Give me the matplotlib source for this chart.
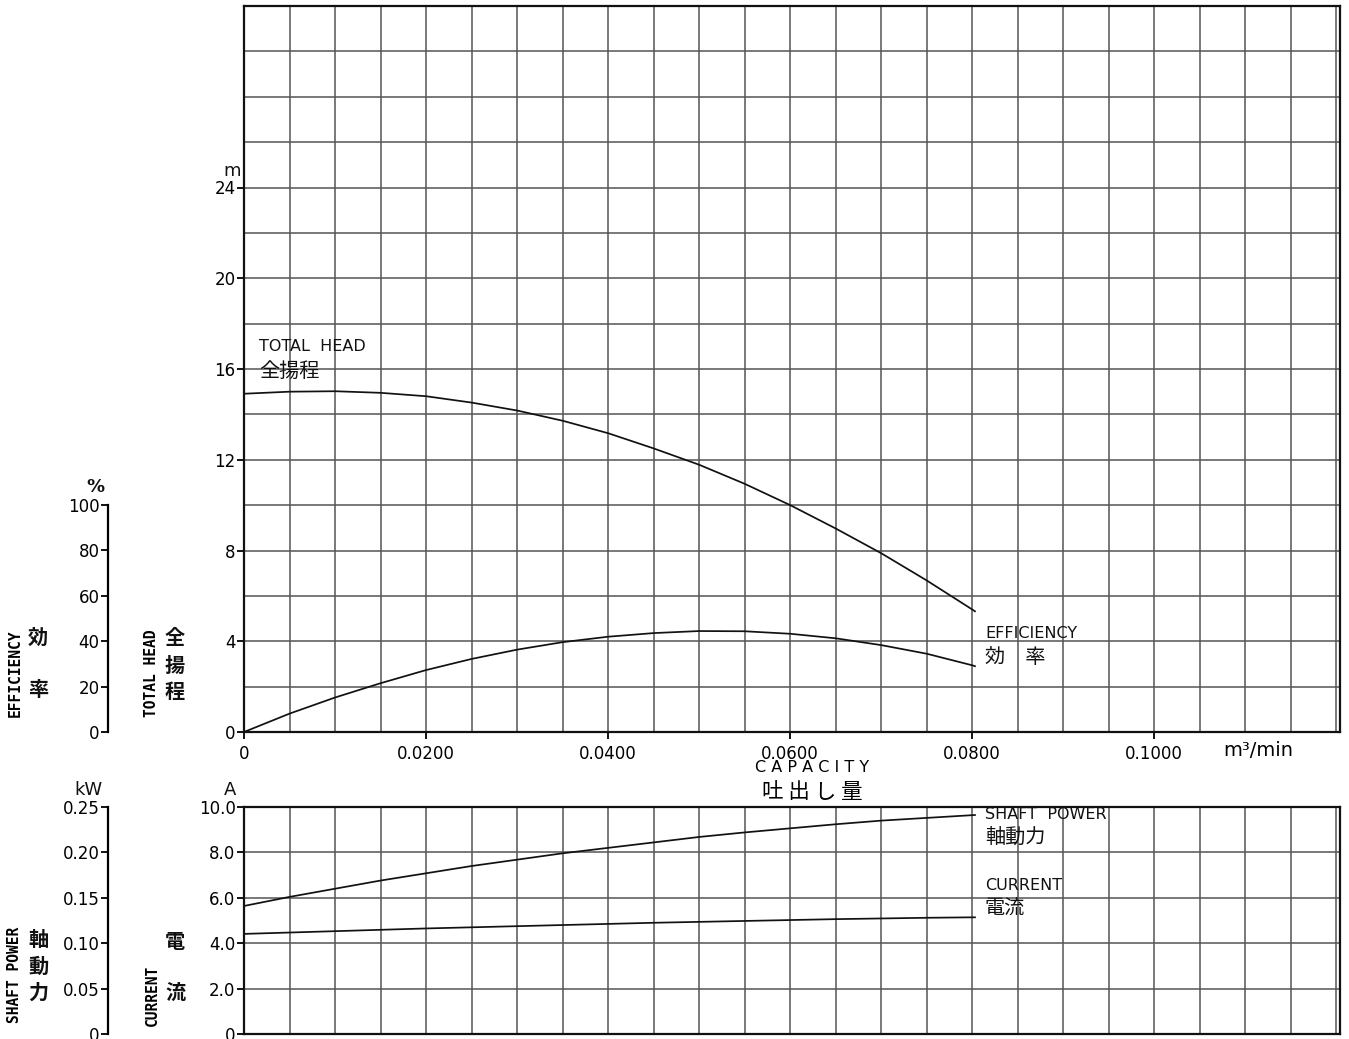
import matplotlib
matplotlib.use('Agg')
import matplotlib.pyplot as plt

plt.rcParams['font.family'] = ['DejaVu Sans', 'Noto Sans CJK JP']

# capacity (m3/min)
capacity = [0, 0.005, 0.01, 0.015, 0.02, 0.025, 0.03, 0.035, 0.04, 0.045,
            0.05, 0.055, 0.06, 0.065, 0.07, 0.075, 0.08, 0.0803]
# total head (m)
head = [14.91, 15.0, 15.02, 14.95, 14.8, 14.52, 14.17, 13.72, 13.17, 12.5,
        11.78, 10.94, 10.0, 8.97, 7.88, 6.68, 5.4, 5.32]
# efficiency (%)
efficiency = [0, 8.1, 15.2, 21.5, 27.3, 32.2, 36.3, 39.6, 42.0, 43.6,
              44.5, 44.4, 43.3, 41.3, 38.3, 34.5, 29.4, 29.0]
# shaft power (kW)
shaft_power = [0.141, 0.151, 0.160, 0.169, 0.177, 0.185, 0.192, 0.199, 0.205, 0.211,
               0.217, 0.222, 0.2265, 0.231, 0.235, 0.238, 0.241, 0.2412]
# current (A)
current = [4.41, 4.47, 4.53, 4.59, 4.65, 4.70, 4.75, 4.80, 4.85, 4.90,
           4.94, 4.98, 5.02, 5.06, 5.09, 5.12, 5.14, 5.14]

x_ticks = [0, 0.02, 0.04, 0.06, 0.08, 0.10]
x_labels = ['0', '0.0200', '0.0400', '0.0600', '0.0800', '0.1000']
head_ticks = [0, 4, 8, 12, 16, 20, 24]
eff_ticks = [0, 20, 40, 60, 80, 100]
cur_ticks = [0, 2, 4, 6, 8, 10]
cur_labels = ['0', '2.0', '4.0', '6.0', '8.0', '10.0']
kw_ticks = [0, 0.05, 0.10, 0.15, 0.20, 0.25]
kw_labels = ['0', '0.05', '0.10', '0.15', '0.20', '0.25']

W, H = 1349, 1039
fig = plt.figure(figsize=(W / 100, H / 100), dpi=100)

XMAX = 0.1204
PT = 72 / 100  # points per pixel
GRID_KW = dict(color='#555555', linewidth=1.1)
TICK_KW = dict(direction='out', length=7 * PT, width=1.3, labelsize=12, pad=1)
LINE_KW = dict(color='#111111', linewidth=1.25, zorder=3)


def px(x, y):
    return x / W, 1 - y / H


def frame(ax):
    for s in ax.spines.values():
        s.set_linewidth(1.6)
        s.set_color('#111111')


def side_axis(ax):
    # second scale drawn as a separate spine left of the chart
    tw = ax.twinx()
    tw.yaxis.tick_left()
    tw.spines['left'].set_position(('outward', 136 * PT))
    tw.spines['left'].set_linewidth(1.6)
    for s in ['right', 'top', 'bottom']:
        tw.spines[s].set_visible(False)
    return tw


# ---- upper chart: head + efficiency ----
ax1 = fig.add_axes([244 / W, 1 - 732 / H, 1096 / W, 726 / H])
ax1.set_xlim(0, XMAX)
ax1.set_ylim(0, 32)
for i in range(1, 25):
    ax1.axvline(i * 0.005, **GRID_KW, zorder=1)
for i in range(1, 16):
    ax1.axhline(i * 2, **GRID_KW, zorder=1)
ax1.plot(capacity, head, **LINE_KW)
ax1.set_xticks(x_ticks)
ax1.set_xticklabels(x_labels)
ax1.set_yticks(head_ticks)
ax1.tick_params(**TICK_KW)
ax1.tick_params(axis='x', pad=4)
frame(ax1)

eff_ax = side_axis(ax1)
eff_ax.set_ylim(0, 320)
eff_ax.spines['left'].set_bounds(0, 100)
eff_ax.set_yticks(eff_ticks)
eff_ax.tick_params(**TICK_KW)
eff_ax.plot(capacity, efficiency, **LINE_KW)

# ---- lower chart: current + shaft power ----
ax2 = fig.add_axes([244 / W, 1 - 1034 / H, 1096 / W, 227 / H])
ax2.set_xlim(0, XMAX)
ax2.set_ylim(0, 10)
for i in range(1, 25):
    ax2.axvline(i * 0.005, **GRID_KW, zorder=1)
for i in range(1, 5):
    ax2.axhline(i * 2, **GRID_KW, zorder=1)
ax2.plot(capacity, current, **LINE_KW)
ax2.set_xticks([])
ax2.set_yticks(cur_ticks)
ax2.set_yticklabels(cur_labels)
ax2.tick_params(**TICK_KW)
frame(ax2)

kw_ax = side_axis(ax2)
kw_ax.set_ylim(0, 0.25)
kw_ax.set_yticks(kw_ticks)
kw_ax.set_yticklabels(kw_labels)
kw_ax.tick_params(**TICK_KW)
kw_ax.plot(capacity, shaft_power, **LINE_KW)

# ---- curve labels ----
lat = dict(fontsize=11.5, ha='left', va='center', color='#111111')
cjk = dict(fontsize=14.5, ha='left', va='center', color='#111111',
           family=['Noto Sans CJK JP', 'DejaVu Sans'])
ax1.text(0.00165, 17.0, 'TOTAL  HEAD', **lat)
ax1.text(0.00165, 15.9, '全揚程', **cjk)
ax1.text(0.0814, 4.35, 'EFFICIENCY', **lat)
ax1.text(0.0814, 3.3, '効\u3000率', **cjk)
ax2.text(0.0814, 9.66, 'SHAFT  POWER', **lat)
ax2.text(0.0814, 8.65, '軸動力', **cjk)
ax2.text(0.0814, 6.53, 'CURRENT', **lat)
ax2.text(0.0814, 5.51, '電流', **cjk)

# ---- axis titles and units ----
side = dict(fontsize=10.5, rotation=90, ha='center', va='center', fontweight='bold',
            family=['DejaVu Sans Mono', 'DejaVu Sans'])
fig.text(*px(15, 673), 'EFFICIENCY', **side)
fig.text(*px(152, 673), 'TOTAL HEAD', **side)
fig.text(*px(15, 975), 'SHAFT POWER', **side)
fig.text(*px(152, 995), 'CURRENT', **side)

stack = dict(fontsize=14.5, ha='center', va='center', color='#111111',
             fontweight='bold', family=['Noto Sans CJK JP', 'DejaVu Sans'])
for ch, (x, y) in [('効', (38, 637)), ('率', (38, 690)),
                   ('全', (175, 637)), ('揚', (175, 665)), ('程', (175, 692)),
                   ('軸', (38, 939)), ('動', (38, 966)), ('力', (38, 992)),
                   ('電', (175, 942)), ('流', (175, 992))]:
    fig.text(*px(x, y), ch, **stack)

unit = dict(fontsize=13, ha='center', va='center', color='#111111')
fig.text(*px(95, 487), '%', fontweight='bold', **unit)
fig.text(*px(232, 171), 'm', **unit)
fig.text(*px(88, 790), 'kW', **unit)
fig.text(*px(230, 790), 'A', **unit)
fig.text(*px(1258, 750), 'm³/min', fontsize=14, ha='center', va='center')

fig.text(*px(812, 768), 'C A P A C I T Y', fontsize=11.5, ha='center', va='center')
fig.text(*px(812, 792), '吐 出 し 量', fontsize=15.5, ha='center', va='center',
         family=['Noto Sans CJK JP', 'DejaVu Sans'])

fig.savefig('out.png', dpi=100)
